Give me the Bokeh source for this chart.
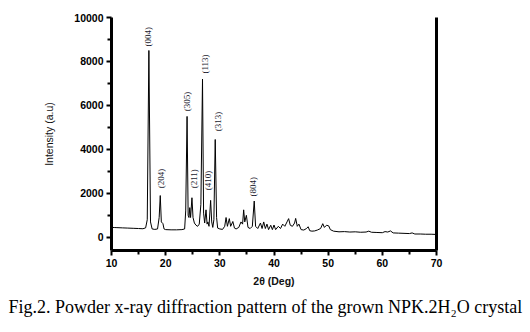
import math
from bokeh.plotting import figure
from bokeh.models import LinearAxis, Title, Range1d, ColumnDataSource, FixedTicker
from bokeh.core.properties import value
from bokeh.embed import file_html
from bokeh.resources import INLINE

two_theta = [10.0, 10.5, 11, 12, 13, 14, 15, 15.8, 16.3, 16.6, 16.9, 17.2, 17.5, 18.0, 18.5, 18.8, 19.0, 19.2, 19.5, 19.7,
             20.0, 21, 22, 23, 23.5, 23.7, 23.95, 24.15, 24.3, 24.45, 24.6, 24.85, 25.05, 25.3, 25.6, 25.9, 26.2, 26.5,
             26.8, 27.0, 27.2, 27.45, 27.65, 27.8, 28.0, 28.3, 28.5, 28.7, 28.9, 29.15, 29.4, 29.6, 30.0, 30.5, 30.9,
             31.15, 31.4, 31.75, 32.0, 32.4, 32.7, 33.0, 33.5, 33.9, 34.2, 34.4, 34.6, 34.9, 35.2, 35.6, 36.0, 36.35,
             36.6, 37.0, 37.5, 37.8, 38.1, 38.4, 38.7, 39.0, 39.4, 39.7, 40.0, 40.3, 40.8, 41.2, 41.6, 42.0, 42.4,
             42.7, 43.0, 43.4, 43.8, 44.0, 44.3, 44.6, 45.0, 45.5, 46.0, 46.3, 46.6, 47.0, 47.5, 48.0, 48.6, 49.0,
             49.3, 49.7, 50.1, 50.4, 51, 52, 53, 54, 55, 56, 57, 57.5, 58, 59, 60, 60.5, 61, 61.5, 62, 63, 64, 65,
             65.5, 66, 67, 68, 69, 70]
intensity = [450, 445, 440, 430, 420, 410, 400, 390, 430, 800, 8500, 700, 380, 360, 380, 900, 1900, 700, 620, 380,
             350, 340, 340, 350, 380, 1200, 5500, 1000, 900, 1350, 900, 1800, 900, 650, 550, 500, 600, 1500,
             7200, 1100, 650, 1250, 600, 700, 500, 1680, 700, 450, 800, 4450, 900, 420, 380, 360, 500,
             900, 500, 850, 500, 720, 420, 380, 450, 700, 600, 1250, 700, 1000, 450, 400, 500, 1650,
             500, 400, 650, 400, 700, 400, 600, 350, 550, 350, 560, 350, 500, 400, 600, 500, 700,
             850, 550, 500, 650, 860, 500, 600, 350, 330, 400, 480, 300, 280, 290, 330, 400, 620,
             450, 550, 520, 350, 280, 250, 260, 240, 250, 230, 240, 280, 230, 220, 210, 260, 240, 290, 200, 190, 180, 170,
             200, 150, 150, 140, 140, 130]

peak_labels = ["(004)", "(204)", "(305)", "(211)", "(113)", "(410)", "(313)", "(804)"]
peak_label_x = [16.8, 19.2, 24.0, 25.3, 27.2, 27.9, 29.6, 36.2]
peak_label_y = [8680, 2230, 5730, 2230, 7450, 2140, 4820, 1860]

x_ticks = [10, 20, 30, 40, 50, 60, 70]
x_minor = [15, 25, 35, 45, 55, 65]
y_ticks = [0, 2000, 4000, 6000, 8000, 10000]
y_minor = [1000, 3000, 5000, 7000, 9000]

caption = "Fig.2. Powder x-ray diffraction pattern of the grown NPK.2H₂O crystal"

p = figure(width=530, height=332, output_backend="svg", toolbar_location=None,
           x_range=Range1d(10, 70), y_range=Range1d(-600, 10000),
           min_border_left=111, min_border_right=94, min_border_top=17, min_border_bottom=82)
p.outline_line_color = None
p.grid.grid_line_color = None
p.background_fill_color = "white"
p.border_fill_color = "white"

p.line(two_theta, intensity, line_color="black", line_width=1)

src = ColumnDataSource(dict(x=peak_label_x, y=peak_label_y, t=peak_labels))
p.text(x="x", y="y", text="t", source=src, angle=math.pi / 2, text_align="left", text_baseline="middle",
       text_font=value("Liberation Serif"), text_font_size="9px", text_color="#1a1a2e")

for ax in (p.xaxis[0], p.yaxis[0]):
    ax.axis_line_width = 3
    ax.axis_line_color = "black"
    ax.major_tick_line_width = 2
    ax.minor_tick_line_width = 2
    ax.major_tick_out = 5
    ax.major_tick_in = 0
    ax.minor_tick_out = 4
    ax.minor_tick_in = 0
    ax.major_label_text_font = "Liberation Sans"
    ax.major_label_text_font_style = "bold"
    ax.major_label_text_font_size = "10.5px"
    ax.major_label_text_color = "black"
    ax.axis_label_text_font = "Liberation Sans"
    ax.axis_label_text_color = "#111"

p.xaxis[0].ticker = FixedTicker(ticks=x_ticks, minor_ticks=x_minor)
p.yaxis[0].ticker = FixedTicker(ticks=y_ticks, minor_ticks=y_minor)
p.xaxis[0].major_label_standoff = 3
p.yaxis[0].major_label_standoff = 3

p.xaxis[0].axis_label = "2θ (Deg)"
p.xaxis[0].axis_label_text_font_style = "bold"
p.xaxis[0].axis_label_text_font_size = "10.5px"
p.xaxis[0].axis_label_standoff = 5

p.yaxis[0].axis_label = "Intensity (a.u)"
p.yaxis[0].axis_label_text_font_style = "normal"
p.yaxis[0].axis_label_text_font_size = "10.5px"
p.yaxis[0].axis_label_standoff = 16

right = LinearAxis(axis_line_width=3, axis_line_color="black", ticker=FixedTicker(ticks=[], minor_ticks=[]),
                   major_tick_line_color=None, minor_tick_line_color=None)
p.add_layout(right, "right")

cap = Title(text=caption, align="left", text_font="Liberation Serif", text_font_size="18px",
            text_font_style="normal", text_color="black", standoff=10, offset=-103, vertical_align="bottom")
p.add_layout(cap, "below")

open("out.html", "w").write(file_html(p, INLINE))
